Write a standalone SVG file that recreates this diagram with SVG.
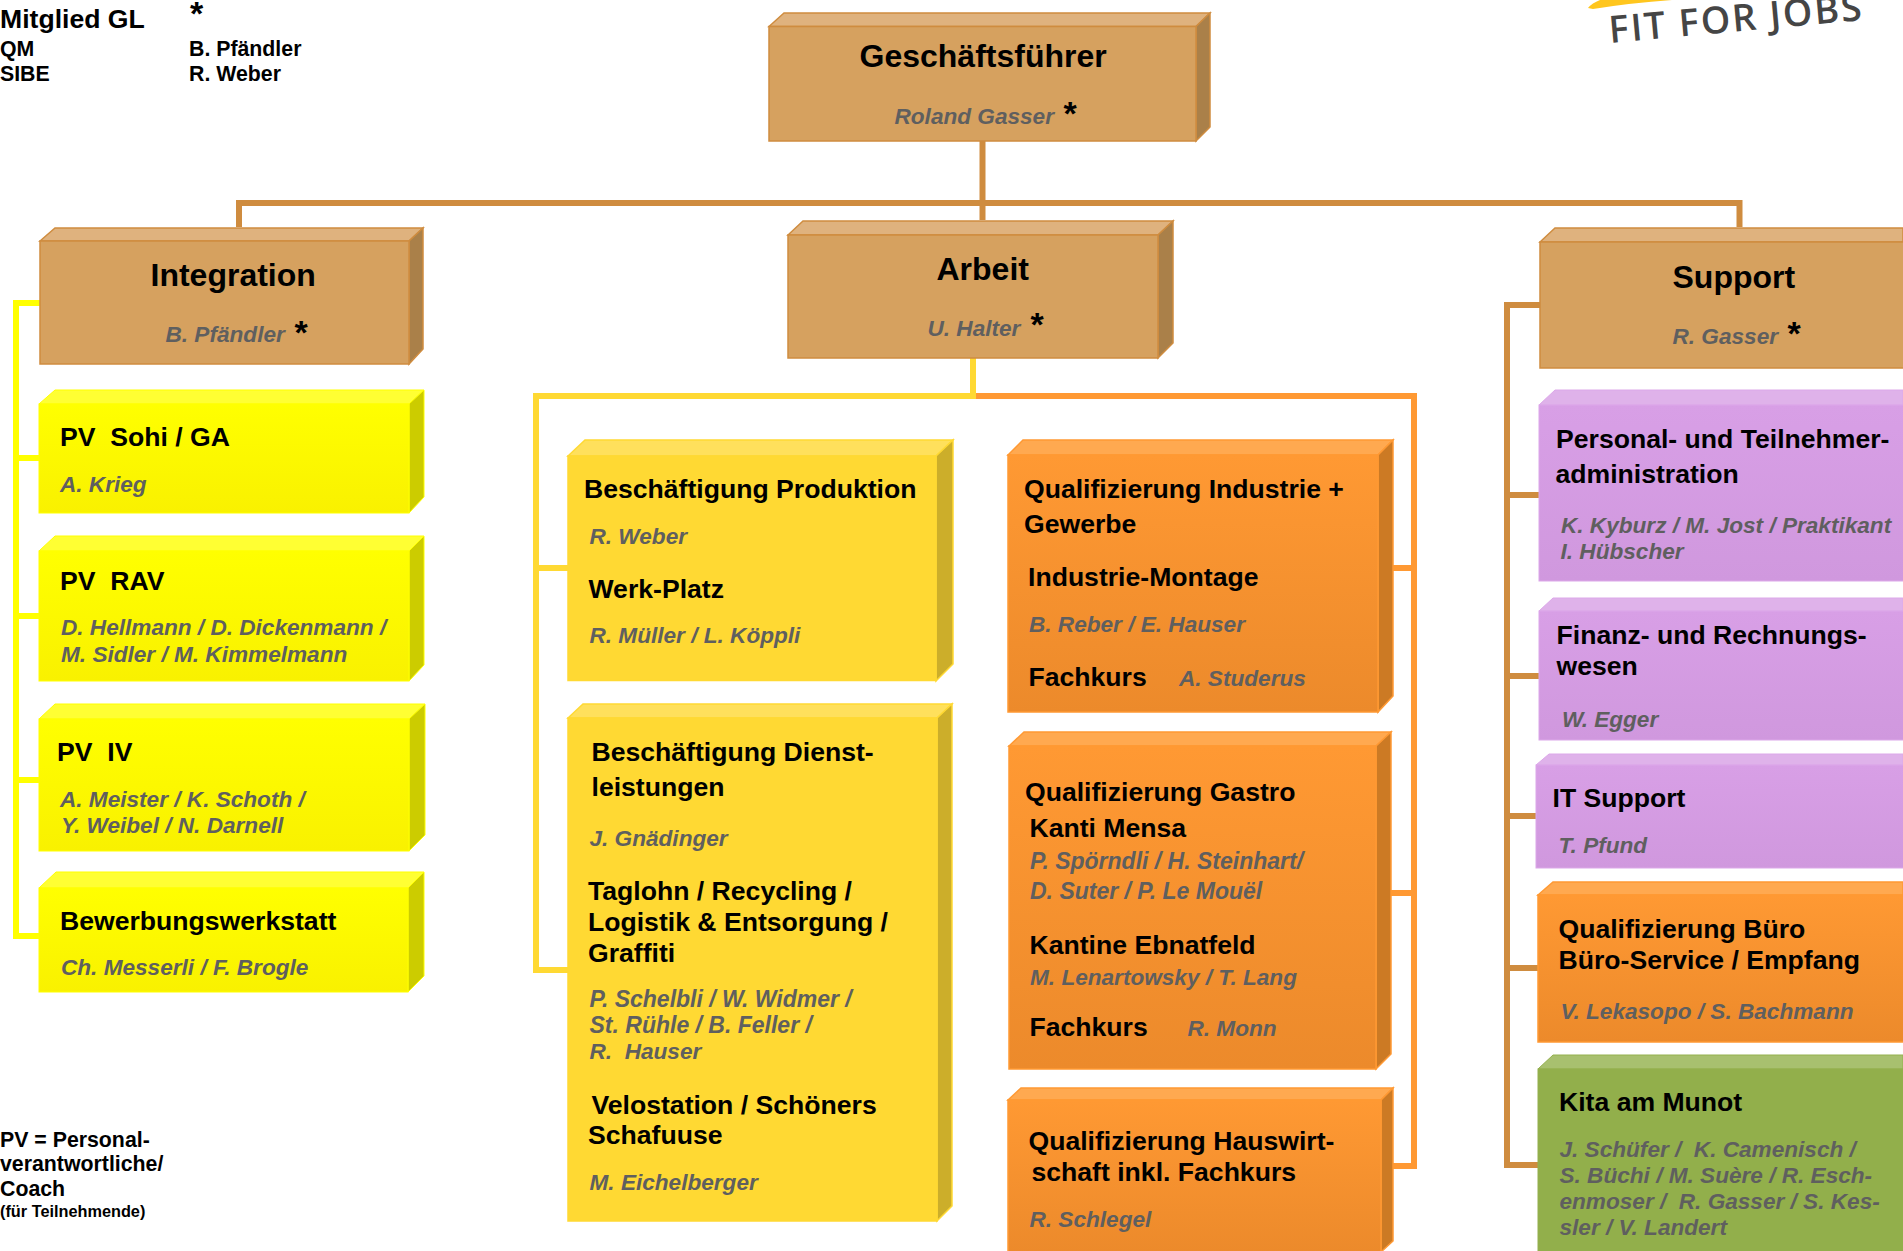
<svg xmlns="http://www.w3.org/2000/svg" width="1903" height="1251" viewBox="0 0 1903 1251">
<style>
text{font-family:"Liberation Sans",Arial,sans-serif;font-weight:700;white-space:pre;fill:#000}
.t{font-size:32px}
.h{font-size:26.6px}
.p{font-size:22.6px;font-style:italic;fill:#5f5f5f}
.w{font-size:23px}
.s{font-size:21.3px}
.x{font-size:16.3px}
.a{font-size:34px}
.lk{fill:none;stroke-width:6;stroke-linejoin:miter}
.brown .f{fill:#d6a15f}.brown .u{fill:#dfb27e}.brown .r{fill:#aa8049}
.brown path,.brown rect{stroke:#cf8c3f;stroke-width:1.5}
.yel .f{fill:url(#gy)}.yel .u{fill:#ffff33}.yel .r{fill:#cccc00}
.yel path,.yel rect{stroke:#ffff00;stroke-width:1}
.gold .f{fill:#ffd933}.gold .u{fill:#ffe05c}.gold .r{fill:#ccae2a}
.gold path,.gold rect{stroke:#ffd933;stroke-width:1.5}
.org .f{fill:url(#go)}.org .u{fill:#ffa950}.org .r{fill:#cc7a24}
.org path,.org rect{stroke:#ff9933;stroke-width:1.5}
.pur .f{fill:url(#gp)}.pur .u{fill:#dfb2ea}
.pur path,.pur rect{stroke:#dca8e9;stroke-width:1}
.grn .f{fill:#92af4b}.grn .u{fill:#a8c06f}
.grn path,.grn rect{stroke:#94b04e;stroke-width:1}
</style>
<defs>
<linearGradient id="gy" x1="0" y1="0" x2="0" y2="1"><stop offset="0" stop-color="#ffff00"/><stop offset="1" stop-color="#f9f100"/></linearGradient>
<linearGradient id="go" x1="0" y1="0" x2="0" y2="1"><stop offset="0" stop-color="#ff9933"/><stop offset="1" stop-color="#ec8a2b"/></linearGradient>
<linearGradient id="gp" x1="0" y1="0" x2="0" y2="1"><stop offset="0" stop-color="#d89fe6"/><stop offset="1" stop-color="#d098de"/></linearGradient>
</defs>
<g id="connectors">
<path class="lk" stroke="#cf8c3f" d="M982.5 141V220M239 227V203H1739.5V227"/>
<path class="lk" stroke="#cf8c3f" d="M1540 305H1507V1165H1538M1507 495H1539M1507 676H1539M1507 816H1536M1507 968H1538"/>
<path class="lk" stroke="#ffff00" d="M40 303H16V936H40M16 458H40M16 616H40M16 780H40"/>
<path class="lk" stroke="#ffd933" d="M973 358V396H536V970H568M536 568H568"/>
<path class="lk" stroke="#ff9933" d="M976 396H1414V1166H1393M1414 568H1393M1414 893H1391"/>
</g>
<g id="legend">
<text class="h" x="0" y="28">Mitglied GL</text>
<text class="a" x="190" y="25">*</text>
<text class="s" x="0" y="56">QM</text><text class="s" x="189" y="56">B. Pfändler</text>
<text class="s" x="0" y="81">SIBE</text><text class="s" x="189" y="81">R. Weber</text>
<text class="s" x="0" y="1147">PV = Personal-</text>
<text class="s" x="0" y="1171">verantwortliche/</text>
<text class="s" x="0" y="1196">Coach</text>
<text class="x" x="0" y="1217">(für Teilnehmende)</text>
</g>
<g id="logo">
<path fill="#ffc61e" d="M1588 8Q1592 3 1600 0H1672Q1630 3 1593 9Z"/>
<text x="1610" y="43" transform="rotate(-5.2 1610 43)" style="font-family:'Open Sans',sans-serif;font-weight:600;font-size:37.5px;letter-spacing:2px;fill:#454545">FIT FOR JOBS</text>
</g>
<g id="gf" class="brown">
<path class="u" d="M769 26.500L784 13H1210L1196 26.500Z"/><path class="r" d="M1196 26.500L1210 13V127L1196 141Z"/><rect class="f" x="769" y="26.500" width="427" height="114.500"/>
<text class="t" x="859.500" y="67">Geschäftsführer</text><text class="p" x="894.500" y="124">Roland Gasser</text><text class="a" x="1063.500" y="125">*</text>
</g>
<g id="integration" class="brown">
<path class="u" d="M40 241L55 228H423L409 241Z"/><path class="r" d="M409 241L423 228V349L409 364Z"/><rect class="f" x="40" y="241" width="369" height="123"/>
<text class="t" x="150.500" y="286">Integration</text><text class="p" x="165.500" y="342">B. Pfändler</text><text class="a" x="294.500" y="344">*</text>
</g>
<g id="arbeit" class="brown">
<path class="u" d="M788 235L803 221H1173L1158 235Z"/><path class="r" d="M1158 235L1173 221V343L1158 358Z"/><rect class="f" x="788" y="235" width="370" height="123"/>
<text class="t" x="936.500" y="280">Arbeit</text><text class="p" x="927.500" y="336">U. Halter</text><text class="a" x="1030.500" y="336">*</text>
</g>
<g id="support" class="brown">
<path class="u" d="M1540 242L1555 228H1903V242Z"/><rect class="f" x="1540" y="242" width="364" height="126"/>
<text class="t" x="1672.500" y="288">Support</text><text class="p" x="1672.500" y="344">R. Gasser</text><text class="a" x="1787.500" y="345">*</text>
</g>
<g id="pv-sohi" class="yel">
<path class="u" d="M39 404L55 390H424L409 404Z"/><path class="r" d="M409 404L424 390V497L409 513Z"/><rect class="f" x="39" y="404" width="370" height="109"/>
<text class="h" x="60" y="446">PV  Sohi / GA</text><text class="p" x="60" y="492">A. Krieg</text>
</g>
<g id="pv-rav" class="yel">
<path class="u" d="M39 551L55 536H424L409 551Z"/><path class="r" d="M409 551L424 536V665L409 681Z"/><rect class="f" x="39" y="551" width="370" height="130"/>
<text class="h" x="60" y="590">PV  RAV</text><text class="p" x="61" y="635">D. Hellmann / D. Dickenmann /</text><text class="p" x="61" y="662">M. Sidler / M. Kimmelmann</text>
</g>
<g id="pv-iv" class="yel">
<path class="u" d="M39 719L55 704H425L409 719Z"/><path class="r" d="M409 719L425 704V835L409 851Z"/><rect class="f" x="39" y="719" width="370" height="132"/>
<text class="h" x="57" y="761">PV  IV</text><text class="p" x="60" y="807">A. Meister / K. Schoth /</text><text class="p" x="61" y="833">Y. Weibel / N. Darnell</text>
</g>
<g id="bewerbung" class="yel">
<path class="u" d="M39 888L56 872H424L408 888Z"/><path class="r" d="M408 888L424 872V976L408 992Z"/><rect class="f" x="39" y="888" width="369" height="104"/>
<text class="h" x="60" y="930">Bewerbungswerkstatt</text><text class="p" x="61" y="975">Ch. Messerli / F. Brogle</text>
</g>
<g id="produktion" class="gold">
<path class="u" d="M568 456L585 440H953L936 456Z"/><path class="r" d="M936 456L953 440V664L936 681Z"/><rect class="f" x="568" y="456" width="368" height="224.500"/>
<text class="h" x="584" y="498">Beschäftigung Produktion</text><text class="p" x="589.500" y="544">R. Weber</text><text class="h" x="588.500" y="598">Werk-Platz</text><text class="p" x="589.500" y="643">R. Müller / L. Köppli</text>
</g>
<g id="dienstleistungen" class="gold">
<path class="u" d="M568 718L583 704H952L937 718Z"/><path class="r" d="M937 718L952 704V1206L937 1221Z"/><rect class="f" x="568" y="718" width="369" height="503"/>
<text class="h" x="591.500" y="761">Beschäftigung Dienst-</text><text class="h" x="591.500" y="796">leistungen</text><text class="p" x="589.500" y="846">J. Gnädinger</text>
<text class="h" x="588" y="900">Taglohn / Recycling /</text><text class="h" x="588" y="931">Logistik &amp; Entsorgung /</text><text class="h" x="588" y="962">Graffiti</text>
<text class="p w" x="589.500" y="1007">P. Schelbli / W. Widmer /</text><text class="p w" x="589.500" y="1033">St. Rühle / B. Feller /</text><text class="p" x="589.500" y="1059">R.  Hauser</text>
<text class="h" x="591.500" y="1114">Velostation / Schöners</text><text class="h" x="588" y="1144">Schafuuse</text><text class="p" x="589.500" y="1190">M. Eichelberger</text>
</g>
<g id="q-industrie" class="org">
<path class="u" d="M1008 455L1023 440H1393L1378 455Z"/><path class="r" d="M1378 455L1393 440V696L1378 712Z"/><rect class="f" x="1008" y="455" width="370" height="257"/>
<text class="h" x="1024" y="498">Qualifizierung Industrie +</text><text class="h" x="1024" y="533">Gewerbe</text><text class="h" x="1028" y="586">Industrie-Montage</text><text class="p" x="1029" y="632">B. Reber / E. Hauser</text><text class="h" x="1028.500" y="686">Fachkurs</text><text class="p" x="1179" y="686">A. Studerus</text>
</g>
<g id="q-gastro" class="org">
<path class="u" d="M1009 746L1024 732H1391L1376 746Z"/><path class="r" d="M1376 746L1391 732V1054L1376 1069Z"/><rect class="f" x="1009" y="746" width="367" height="323"/>
<text class="h" x="1025" y="801">Qualifizierung Gastro</text><text class="h" x="1029.500" y="837">Kanti Mensa</text><text class="p w" x="1030" y="869">P. Spörndli / H. Steinhart/</text><text class="p w" x="1030" y="899">D. Suter / P. Le Mouël</text><text class="h" x="1029.500" y="954">Kantine Ebnatfeld</text><text class="p" x="1030" y="985">M. Lenartowsky / T. Lang</text><text class="h" x="1029.500" y="1036">Fachkurs</text><text class="p" x="1187.500" y="1036">R. Monn</text>
</g>
<g id="q-hauswirtschaft" class="org">
<path class="u" d="M1008 1100L1021 1088H1393L1381 1100Z"/><path class="r" d="M1381 1100L1393 1088V1241L1381 1252Z"/><rect class="f" x="1008" y="1100" width="373" height="152"/>
<text class="h" x="1028.500" y="1150">Qualifizierung Hauswirt-</text><text class="h" x="1031.500" y="1181">schaft inkl. Fachkurs</text><text class="p" x="1029.500" y="1227">R. Schlegel</text>
</g>
<g id="personal" class="pur">
<path class="u" d="M1539 405L1555 390H1903V405Z"/><rect class="f" x="1539" y="405" width="365" height="176"/>
<text class="h" x="1556" y="448">Personal- und Teilnehmer-</text><text class="h" x="1555.500" y="483">administration</text><text class="p" x="1561" y="533">K. Kyburz / M. Jost / Praktikant</text><text class="p" x="1560.500" y="559">I. Hübscher</text>
</g>
<g id="finanz" class="pur">
<path class="u" d="M1539 611L1553 598H1903V611Z"/><rect class="f" x="1539" y="611" width="365" height="129"/>
<text class="h" x="1556.500" y="644">Finanz- und Rechnungs-</text><text class="h" x="1556.500" y="675">wesen</text><text class="p" x="1562" y="727">W. Egger</text>
</g>
<g id="it" class="pur">
<path class="u" d="M1536 765L1549 754H1903V765Z"/><rect class="f" x="1536" y="765" width="368" height="103"/>
<text class="h" x="1552.500" y="807">IT Support</text><text class="p" x="1558.500" y="853">T. Pfund</text>
</g>
<g id="q-buero" class="org">
<path class="u" d="M1538 895L1553 882H1903V895Z"/><rect class="f" x="1538" y="895" width="366" height="147"/>
<text class="h" x="1558.500" y="938">Qualifizierung Büro</text><text class="h" x="1558.500" y="969">Büro-Service / Empfang</text><text class="p" x="1560.500" y="1019">V. Lekasopo / S. Bachmann</text>
</g>
<g id="kita" class="grn">
<path class="u" d="M1538 1069L1553 1055H1903V1069Z"/><rect class="f" x="1538" y="1069" width="366" height="183"/>
<text class="h" x="1559" y="1111">Kita am Munot</text><text class="p" x="1559.500" y="1157">J. Schüfer /  K. Camenisch /</text><text class="p" x="1559.500" y="1183">S. Büchi / M. Suère / R. Esch-</text><text class="p" x="1559.500" y="1209">enmoser /  R. Gasser / S. Kes-</text><text class="p" x="1559.500" y="1235">sler / V. Landert</text>
</g>
</svg>
